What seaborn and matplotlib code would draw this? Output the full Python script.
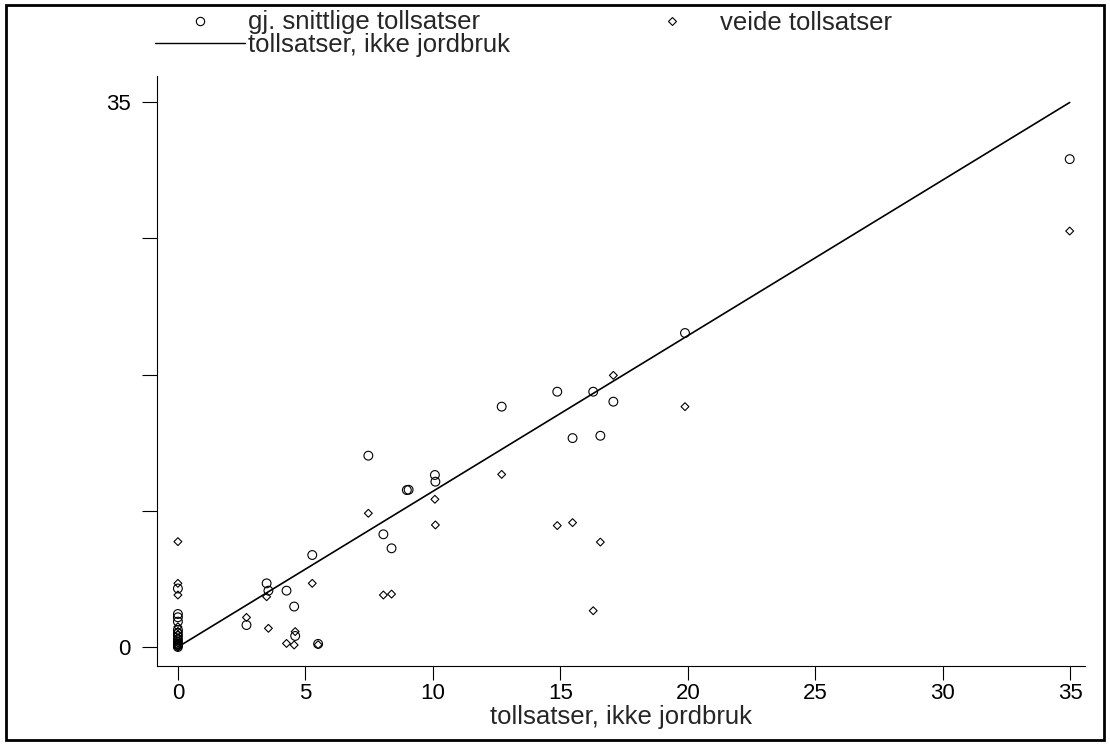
import matplotlib
matplotlib.use("Agg")
import matplotlib.pyplot as plt
from matplotlib.lines import Line2D
from matplotlib.patches import Rectangle
import numpy as np
import seaborn as sns

# ---- data ----
tariff_nonagri = [0, 0, 0, 0, 0, 0, 0, 0, 0, 0, 0, 0,
                  2.69, 3.48, 3.55, 4.26, 4.56, 4.60, 5.27, 5.50,
                  7.47, 8.06, 8.38, 8.98, 9.05, 10.08, 10.10, 12.70,
                  14.88, 15.48, 16.29, 16.57, 17.08, 19.89, 34.98]
avg_tariff = [3.76, 2.12, 1.91, 1.63, 1.10, 0.90, 0.70, 0.50, 0.35, 0.20, 0.10, 0.00,
              1.41, 4.09, 3.62, 3.62, 2.60, 0.71, 5.91, 0.20,
              12.29, 7.24, 6.34, 10.08, 10.10, 11.05, 10.62, 15.44,
              16.40, 13.42, 16.40, 13.57, 15.76, 20.17, 31.34]
weighted_tariff = [6.77, 4.09, 3.34, 1.30, 1.00, 0.80, 0.60, 0.40, 0.25, 0.10, 0.00, 0.00,
                   1.90, 3.23, 1.20, 0.23, 0.13, 0.99, 4.09, 0.15,
                   8.59, 3.34, 3.40, np.nan, np.nan, 9.49, 7.84, 11.09,
                   7.80, 7.99, 2.33, 6.74, 17.45, 15.44, 26.72]
y_ticks = [0, 8.75, 17.5, 26.25, 35]
y_ticklabels = ["0", "", "", "", "35"]
x_ticks = [0, 5, 10, 15, 20, 25, 30, 35]
legend_labels = ["gj. snittlige tollsatser", "veide tollsatser", "tollsatser, ikke jordbruk"]
x_label = "tollsatser, ikke jordbruk"

sns.set_style("ticks")
plt.rcParams['font.family'] = ['Liberation Sans', 'DejaVu Sans']
plt.rcParams['font.size'] = 16
LABEL_FS = 18.5

fig = plt.figure(figsize=(11.10, 7.45), dpi=100)
W, H = 1110, 745
ax = fig.add_axes([157 / W, 1 - 666 / H, (1085 - 157) / W, (666 - 76) / H])

xs = np.array(tariff_nonagri)
sns.lineplot(x=xs, y=xs, ax=ax, color="black", linewidth=1.2,
             estimator=None, sort=True, legend=False)
sns.scatterplot(x=xs, y=avg_tariff, ax=ax, marker="o", s=40,
                facecolor="none", edgecolor="black", linewidth=0.8, legend=False)
sns.scatterplot(x=xs, y=weighted_tariff, ax=ax, marker="D", s=16,
                facecolor="none", edgecolor="black", linewidth=0.8, legend=False)

ax.set_xlim(-0.82, 35.58)
ax.set_ylim(-1.22, 36.68)
ax.set_yticks(y_ticks)
ax.set_yticklabels(y_ticklabels)
ax.set_xticks(x_ticks)
ax.set_xticklabels([str(t) for t in x_ticks])
ax.tick_params(axis="y", length=11, width=0.8, pad=8, labelsize=16, colors="black")
ax.tick_params(axis="x", length=10, width=0.8, pad=2, labelsize=16, colors="black")
ax.set_xlabel(x_label, fontsize=LABEL_FS, labelpad=1)
ax.set_ylabel("")
for s in ["top", "right"]:
    ax.spines[s].set_visible(False)
for s in ["left", "bottom"]:
    ax.spines[s].set_color("black")
    ax.spines[s].set_linewidth(0.8)

h_circ = Line2D([], [], marker="o", ls="none", mfc="none", mec="black", ms=6, mew=0.8)
h_dia = Line2D([], [], marker="D", ls="none", mfc="none", mec="black", ms=3.8, mew=0.8)
h_line = Line2D([], [], color="black", lw=1.0)
fig.legend([h_circ, h_line, h_dia],
           [legend_labels[0], legend_labels[2], legend_labels[1]],
           ncol=2, loc="upper left", bbox_to_anchor=(155 / W, 1 - 10.5 / H),
           frameon=False, borderpad=0, borderaxespad=0, handlelength=3.5,
           handletextpad=0.12, columnspacing=4.55, labelspacing=-0.05,
           fontsize=LABEL_FS)

fig.patches.append(Rectangle((6 / W, 5 / H), (1104 - 6) / W, (740 - 5) / H,
                             transform=fig.transFigure, fill=False,
                             edgecolor="black", linewidth=2))

fig.savefig("out.png", dpi=100)
